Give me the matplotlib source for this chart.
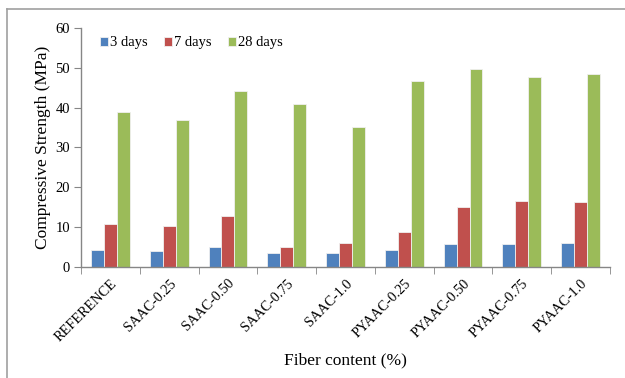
import matplotlib
matplotlib.use("Agg")
import matplotlib.pyplot as plt
from matplotlib.lines import Line2D
import numpy as np

plt.rcParams['font.family'] = ['Liberation Serif', 'DejaVu Serif']

# data
mixes = ['REFERENCE', 'SAAC-0.25', 'SAAC-0.50', 'SAAC-0.75', 'SAAC-1.0',
         'PYAAC-0.25', 'PYAAC-0.50', 'PYAAC-0.75', 'PYAAC-1.0']
day3 = [4.3, 3.9, 4.9, 3.4, 3.4, 4.3, 5.7, 5.7, 5.9]
day7 = [10.7, 10.3, 12.8, 5.1, 5.9, 8.7, 15.0, 16.6, 16.2]
day28 = [38.9, 36.9, 44.2, 41.0, 35.2, 46.7, 49.6, 47.7, 48.5]

series = [('3 days', day3, '#4F81BD'),
          ('7 days', day7, '#C0504D'),
          ('28 days', day28, '#9BBB59')]

fig = plt.figure(figsize=(6.25, 3.78), dpi=100)
ax = fig.add_axes([0.1296, 0.2937, 0.8464, 0.6323])

x = np.arange(len(mixes))
w = 0.22
for i, (name, vals, col) in enumerate(series):
    ax.bar(x + (i - 1) * w, vals, w, color=col, edgecolor='#f0f0f0',
           linewidth=0.6, label=name)

ax.set_xlim(-0.5, len(mixes) - 0.5)
ax.set_ylim(0, 60)
ax.set_yticks(range(0, 61, 10))
ax.set_xticks(x)
ax.set_xticklabels(mixes, rotation=45, ha='right', rotation_mode='anchor', fontsize=10.3)
ax.set_xticks(np.arange(-0.5, len(mixes), 1), minor=True)
ax.tick_params(axis='x', which='major', length=0, pad=7)
ax.tick_params(axis='x', which='minor', length=5, color='#868686', direction='out')
ax.tick_params(axis='y', length=5, color='#868686', labelsize=10.5, pad=3)

for s in ['top', 'right']:
    ax.spines[s].set_visible(False)
for s in ['left', 'bottom']:
    ax.spines[s].set_color('#868686')
    ax.spines[s].set_linewidth(1)

ax.set_ylabel('Compressive Strength (MPa)', fontsize=12.5, labelpad=3)
ax.set_xlabel('Fiber content (%)', fontsize=12.5, labelpad=6)

ax.legend(loc='upper left', bbox_to_anchor=(0.011, 1.02), ncol=3, frameon=False,
          fontsize=10.5, handlelength=0.55, handleheight=0.55, handletextpad=0.15,
          columnspacing=1.1)

# partial frame around the figure (top and left only)
fig.add_artist(Line2D([7 / 625, 1], [1 - 9 / 378, 1 - 9 / 378], color='#a0a0a0', lw=1.2))
fig.add_artist(Line2D([7 / 625, 7 / 625], [0, 1 - 9 / 378], color='#a0a0a0', lw=1.2))

fig.savefig('out.png', dpi=100)
